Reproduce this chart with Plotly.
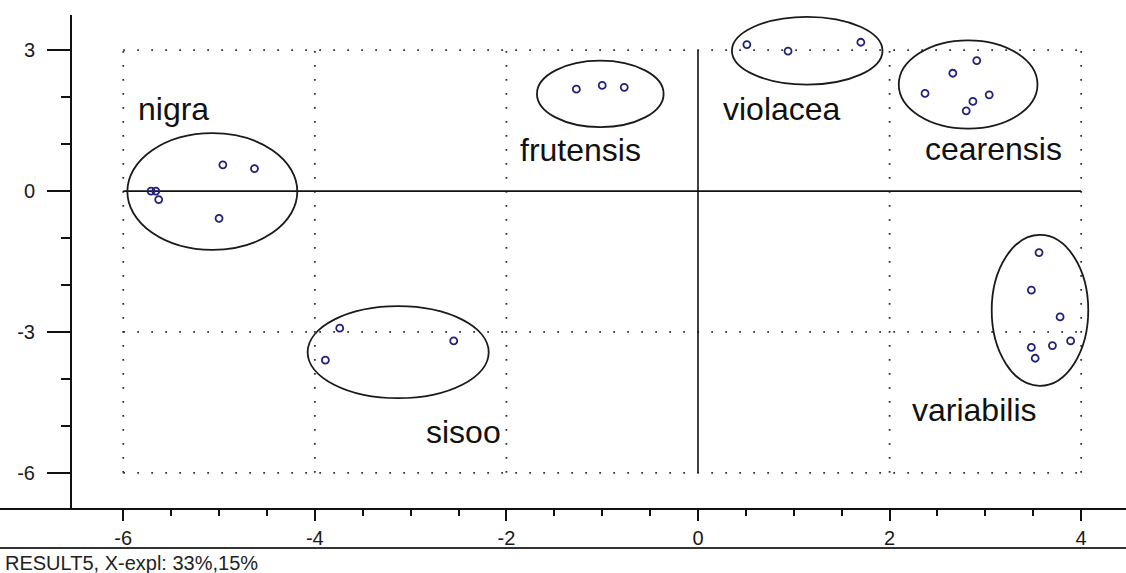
import plotly.graph_objects as go

# ---- data ----
groups = ["nigra", "sisoo", "frutensis", "violacea", "cearensis", "variabilis"]

nigra_x = [-5.71, -5.66, -5.63, -4.96, -4.63, -5.00]
nigra_y = [0.00, 0.00, -0.18, 0.56, 0.48, -0.58]
sisoo_x = [-3.74, -3.89, -2.55]
sisoo_y = [-2.92, -3.60, -3.19]
frutensis_x = [-1.27, -1.00, -0.77]
frutensis_y = [2.17, 2.25, 2.21]
violacea_x = [0.51, 0.94, 1.70]
violacea_y = [3.12, 2.98, 3.17]
cearensis_x = [2.91, 2.66, 2.37, 2.87, 2.80, 3.04]
cearensis_y = [2.78, 2.51, 2.08, 1.91, 1.71, 2.05]
variabilis_x = [3.56, 3.48, 3.78, 3.89, 3.70, 3.48, 3.52]
variabilis_y = [-1.31, -2.11, -2.68, -3.19, -3.29, -3.33, -3.56]

# ellipse centres and semi-axes (data units)
ell_cx = [-5.07, -3.13, -1.02, 1.14, 2.82, 3.57]
ell_cy = [-0.01, -3.43, 2.07, 2.99, 2.27, -2.54]
ell_rx = [0.887, 0.945, 0.661, 0.786, 0.724, 0.504]
ell_ry = [1.243, 0.980, 0.707, 0.722, 0.940, 1.607]

# group label positions (data units)
label_x = [-5.475, -2.453, -1.227, 0.882, 3.085, 2.881]
label_y = [1.757, -5.121, 0.879, 1.757, 0.90, -4.671]

x_ticks = [-6, -4, -2, 0, 2, 4]
x_minor = [-5.5, -5, -4.5, -3.5, -3, -2.5, -1.5, -1, -0.5, 0.5, 1, 1.5, 2.5, 3, 3.5]
y_ticks = [-6, -3, 0, 3]
y_minor = [-5, -4, -2, -1, 1, 2]
grid_x = [-6, -4, -2, 2, 4]
grid_y = [3, -3, -6]
caption = "RESULT5, X-expl: 33%,15%"

xs = [nigra_x, sisoo_x, frutensis_x, violacea_x, cearensis_x, variabilis_x]
ys = [nigra_y, sisoo_y, frutensis_y, violacea_y, cearensis_y, variabilis_y]

FONT = "Arial, 'Liberation Sans', sans-serif"

fig = go.Figure()
for name, gx, gy in zip(groups, xs, ys):
    fig.add_trace(go.Scatter(
        x=gx, y=gy, mode="markers", name=name,
        marker=dict(symbol="circle-open", size=7, color="#22227a",
                    line=dict(width=1.8, color="#22227a")),
    ))

shapes = []
gx0, gx1 = min(grid_x), max(grid_x)
gy0, gy1 = min(grid_y), max(grid_y)
# dotted grid inside the box
for gv in grid_x:
    shapes.append(dict(type="line", xref="x", yref="y", x0=gv, x1=gv, y0=gy0, y1=gy1,
                       line=dict(color="#333333", width=1.8, dash="1.8px,12.2px"), layer="below"))
for gv in grid_y:
    shapes.append(dict(type="line", xref="x", yref="y", x0=gx0, x1=gx1, y0=gv, y1=gv,
                       line=dict(color="#333333", width=1.8, dash="1.8px,12.2px"), layer="below"))
# solid zero lines
shapes.append(dict(type="line", xref="x", yref="y", x0=0, x1=0, y0=gy0, y1=gy1,
                   line=dict(color="#111111", width=1.6), layer="below"))
shapes.append(dict(type="line", xref="x", yref="y", x0=gx0, x1=gx1, y0=0, y1=0,
                   line=dict(color="#111111", width=1.6), layer="below"))
# ellipses
for cx, cy, rx, ry in zip(ell_cx, ell_cy, ell_rx, ell_ry):
    shapes.append(dict(type="circle", xref="x", yref="y",
                       x0=cx - rx, x1=cx + rx, y0=cy - ry, y1=cy + ry,
                       line=dict(color="#1a1a1a", width=1.8)))

W, H = 1126, 573
ML, MR, MT, MB = 72, 0, 15, 64
pw = W - ML - MR
ph = H - MT - MB
# bottom axis line spanning full width, and lower rule
shapes.append(dict(type="line", xref="paper", yref="paper", x0=-ML / pw, x1=1, y0=0, y1=0,
                   line=dict(color="#111111", width=2)))
shapes.append(dict(type="line", xref="paper", yref="paper", x0=-ML / pw, x1=1,
                   y0=-39 / ph, y1=-39 / ph, line=dict(color="#333333", width=2)))

annotations = []
for name, lx, ly in zip(groups, label_x, label_y):
    annotations.append(dict(x=lx, y=ly, xref="x", yref="y", text=name, showarrow=False,
                            xanchor="center", yanchor="middle",
                            font=dict(family=FONT, size=32, color="#111111")))
annotations.append(dict(x=-(ML - 3) / pw, y=-54 / ph, xref="paper", yref="paper", text=caption,
                        showarrow=False, xanchor="left", yanchor="middle",
                        font=dict(family=FONT, size=20, color="#222222")))

fig.update_layout(
    width=W, height=H,
    margin=dict(l=ML, r=MR, t=MT, b=MB, autoexpand=False),
    plot_bgcolor="white", paper_bgcolor="white",
    showlegend=False,
    shapes=shapes, annotations=annotations,
    xaxis=dict(range=[-6.535, 4.468], showgrid=False, zeroline=False, showline=False,
               automargin=False,
               tickvals=x_ticks, ticktext=[str(v) for v in x_ticks],
               ticks="outside", ticklen=11, tickwidth=1.5, tickcolor="#111111",
               tickfont=dict(family=FONT, size=20, color="#1a1a1a"),
               minor=dict(tickvals=x_minor, ticks="outside", ticklen=6, tickwidth=1.5,
                          tickcolor="#111111", showgrid=False)),
    yaxis=dict(range=[-6.77, 3.75], showgrid=False, zeroline=False, showline=True,
               automargin=False,
               linecolor="#111111", linewidth=2,
               tickvals=y_ticks, ticktext=[str(v) for v in y_ticks],
               ticks="outside", ticklen=23, tickwidth=1.5, tickcolor="#111111",
               ticklabelstandoff=8,
               tickfont=dict(family=FONT, size=20, color="#1a1a1a"),
               minor=dict(tickvals=y_minor, ticks="outside", ticklen=9, tickwidth=1.5,
                          tickcolor="#111111", showgrid=False)),
)

fig.write_html("out.html", config={"displayModeBar": False},
               post_script="document.body.style.margin='0';document.body.style.padding='0';")
